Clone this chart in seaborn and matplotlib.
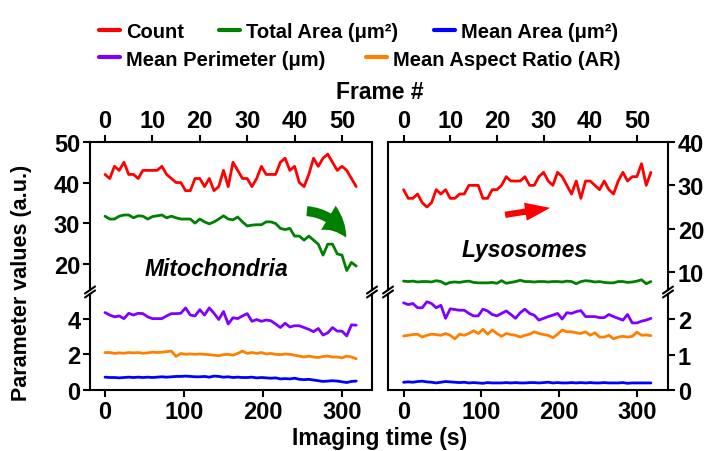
import numpy as np
import pandas as pd
import matplotlib
matplotlib.use("Agg")
import matplotlib.pyplot as plt
import seaborn as sns
from matplotlib.lines import Line2D
from matplotlib.patches import FancyArrowPatch

# ---------------- data ----------------
frame_interval = 6.0
n_frames = 54
time_s = np.arange(n_frames) * frame_interval

mito_count = [42, 41, 44, 43, 45, 42, 42, 41, 43, 43, 43, 43, 44, 42, 41, 40, 40, 38, 38, 41,
              41, 39, 41, 38, 39, 43, 39, 45, 43, 41, 41, 39, 41, 44, 42, 42, 42, 45, 46, 43,
              44, 40, 39, 42, 46, 44, 46, 47, 45, 43, 44, 43, 41, 39]
mito_total_area = [31.7, 31.0, 31.0, 31.7, 32.0, 32.0, 31.3, 31.8, 31.7, 31.0,
                   31.6, 31.8, 32.0, 31.3, 31.7, 31.3, 31.0, 31.0, 31.0, 30.0,
                   31.0, 30.3, 29.8, 30.3, 31.0, 31.8, 31.0, 30.8, 31.5, 30.3,
                   29.3, 29.5, 29.6, 29.6, 30.3, 30.3, 29.9, 28.7, 28.4, 28.7,
                   26.8, 26.8, 25.8, 26.8, 25.8, 24.8, 22.1, 24.8, 24.8, 22.4,
                   22.1, 18.3, 20.3, 19.4]
mito_mean_area = [0.72, 0.70, 0.70, 0.68, 0.70, 0.72, 0.70, 0.72, 0.70, 0.72,
                  0.70, 0.72, 0.74, 0.72, 0.74, 0.76, 0.76, 0.78, 0.76, 0.74,
                  0.74, 0.76, 0.72, 0.78, 0.76, 0.72, 0.74, 0.70, 0.72, 0.70,
                  0.70, 0.72, 0.68, 0.70, 0.68, 0.66, 0.68, 0.62, 0.64, 0.62,
                  0.66, 0.60, 0.58, 0.60, 0.56, 0.52, 0.48, 0.50, 0.52, 0.50,
                  0.46, 0.42, 0.48, 0.50]
mito_perimeter = [4.34, 4.20, 4.10, 4.15, 4.00, 4.30, 4.20, 4.30, 4.28, 4.10,
                  4.00, 4.00, 4.00, 4.15, 4.28, 4.28, 4.30, 4.60, 4.20, 4.15,
                  4.50, 4.20, 4.60, 4.30, 3.95, 4.40, 3.70, 4.05, 4.00, 4.15,
                  4.28, 3.85, 3.95, 3.85, 3.92, 3.88, 3.70, 3.50, 3.74, 3.53,
                  3.60, 3.60, 3.50, 3.40, 3.27, 3.45, 3.08, 3.20, 3.50, 3.30,
                  3.30, 3.03, 3.65, 3.63]
mito_aspect = [2.10, 2.10, 2.05, 2.08, 2.06, 2.10, 2.08, 2.10, 2.06, 2.08,
               2.12, 2.10, 2.12, 2.15, 2.18, 1.88, 2.05, 2.00, 2.02, 2.00,
               2.02, 2.00, 1.98, 1.95, 1.92, 1.98, 2.00, 1.95, 2.05, 2.18,
               2.05, 2.10, 2.05, 2.10, 2.02, 2.05, 2.00, 1.98, 2.02, 2.00,
               1.95, 1.90, 1.85, 1.90, 1.85, 1.82, 1.88, 1.90, 1.85, 1.85,
               1.80, 1.90, 1.85, 1.75]

lyso_count = [29, 27, 27, 28, 26, 25, 26, 29, 28, 29, 27, 27, 28, 28, 30, 30, 30, 27, 27, 29,
              29, 30, 32, 31, 31, 31, 32, 30, 30, 32, 33, 31, 30, 33, 32, 30, 28, 31, 27, 31,
              31, 30, 29, 31, 29, 28, 31, 33, 31, 32, 32, 35, 30, 33]
lyso_total_area = [7.9, 7.8, 7.9, 7.7, 7.8, 7.8, 7.7, 8.0, 7.8, 7.2,
                   7.6, 7.7, 7.6, 7.8, 7.9, 7.6, 7.5, 7.5, 7.5, 7.6,
                   7.4, 8.0, 7.4, 7.6, 7.8, 8.1, 7.8, 7.8, 7.7, 7.8,
                   7.8, 7.7, 7.8, 7.8, 7.7, 7.9, 7.8, 7.3, 7.8, 8.0,
                   7.9, 7.7, 7.8, 7.6, 7.5, 7.5, 7.8, 7.8, 7.6, 7.7,
                   7.9, 8.2, 7.3, 7.8]
lyso_mean_area = [0.22, 0.23, 0.22, 0.24, 0.25, 0.23, 0.22, 0.20, 0.22, 0.24,
                  0.23, 0.22, 0.21, 0.22, 0.20, 0.21, 0.20, 0.19, 0.21, 0.20,
                  0.20, 0.20, 0.21, 0.20, 0.21, 0.20, 0.20, 0.21, 0.21, 0.20,
                  0.21, 0.22, 0.20, 0.21, 0.20, 0.20, 0.21, 0.20, 0.21, 0.20,
                  0.21, 0.20, 0.20, 0.21, 0.20, 0.20, 0.20, 0.21, 0.19, 0.20,
                  0.20, 0.20, 0.20, 0.20]
lyso_perimeter = [2.47, 2.42, 2.45, 2.33, 2.33, 2.50, 2.45, 2.33, 2.40, 2.03,
                  2.30, 2.28, 2.26, 2.26, 2.17, 2.10, 2.10, 2.29, 2.24, 2.14,
                  2.10, 2.17, 2.24, 2.14, 2.03, 2.19, 2.29, 2.17, 2.12, 1.98,
                  2.03, 2.08, 2.12, 2.17, 2.01, 2.19, 2.17, 2.22, 2.25, 2.08,
                  2.08, 2.08, 2.05, 2.05, 2.14, 2.08, 2.03, 1.98, 2.14, 1.90,
                  1.90, 1.95, 1.98, 2.03]
lyso_aspect = [1.53, 1.55, 1.57, 1.58, 1.50, 1.55, 1.58, 1.57, 1.55, 1.60,
               1.55, 1.45, 1.58, 1.55, 1.60, 1.68, 1.60, 1.72, 1.58, 1.70,
               1.60, 1.52, 1.60, 1.57, 1.55, 1.50, 1.55, 1.58, 1.65, 1.60,
               1.57, 1.55, 1.48, 1.58, 1.70, 1.65, 1.65, 1.62, 1.60, 1.65,
               1.55, 1.62, 1.50, 1.50, 1.55, 1.45, 1.50, 1.52, 1.50, 1.52,
               1.64, 1.55, 1.56, 1.54]

series_names = ["Count", "Total Area (μm²)", "Mean Area (μm²)",
                "Mean Perimeter (μm)", "Mean Aspect Ratio (AR)"]
series_colors = ["#FF0000", "#008000", "#0000FF", "#8000FF", "#FF8000"]
palette = dict(zip(series_names, series_colors))

frame_ticks = [0, 10, 20, 30, 40, 50]
time_ticks = [0, 100, 200, 300]
left_upper_ticks = [20, 30, 40, 50]
left_lower_ticks = [0, 2, 4]
right_upper_ticks = [10, 20, 30, 40]
right_lower_ticks = [0, 1, 2]


def long_df(cols):
    d = pd.DataFrame({"time": time_s})
    for name, vals in cols:
        d[name] = vals
    return d.melt(id_vars="time", var_name="series", value_name="value")


mito_up = long_df([(series_names[0], mito_count), (series_names[1], mito_total_area)])
mito_lo = long_df([(series_names[2], mito_mean_area), (series_names[3], mito_perimeter),
                   (series_names[4], mito_aspect)])
lyso_up = long_df([(series_names[0], lyso_count), (series_names[1], lyso_total_area)])
lyso_lo = long_df([(series_names[2], lyso_mean_area), (series_names[3], lyso_perimeter),
                   (series_names[4], lyso_aspect)])

# ---------------- style ----------------
sns.set_theme(style="ticks")
plt.rcParams["font.family"] = ["Liberation Sans", "DejaVu Sans"]
plt.rcParams["font.weight"] = "bold"
plt.rcParams["axes.linewidth"] = 1.5
for key in ("text.color", "axes.labelcolor", "xtick.color", "ytick.color",
            "axes.edgecolor", "legend.labelcolor"):
    plt.rcParams[key] = "black"

W, H = 704, 452
fig = plt.figure(figsize=(W / 100, H / 100), dpi=100)


def fx(px):
    return px / W


def fy(py):
    return 1 - py / H


LX0, LX1 = 90, 372
RX0, RX1 = 388, 668
UY0, UY1 = 143, 291
DY0, DY1 = 295, 391

ax_lu = fig.add_axes([fx(LX0), fy(UY1), (LX1 - LX0) / W, (UY1 - UY0) / H])
ax_ll = fig.add_axes([fx(LX0), fy(DY1), (LX1 - LX0) / W, (DY1 - DY0) / H])
ax_ru = fig.add_axes([fx(RX0), fy(UY1), (RX1 - RX0) / W, (UY1 - UY0) / H])
ax_rl = fig.add_axes([fx(RX0), fy(DY1), (RX1 - RX0) / W, (DY1 - DY0) / H])

LW = 2.0
for ax, df in [(ax_lu, mito_up), (ax_ll, mito_lo), (ax_ru, lyso_up), (ax_rl, lyso_lo)]:
    sns.lineplot(data=df, x="time", y="value", hue="series", palette=palette,
                 legend=False, ax=ax, linewidth=LW)
    ax.set_xlabel("")
    ax.set_ylabel("")
    ax.set_facecolor("white")
    for s in ax.spines.values():
        s.set_linewidth(1.5)
        s.set_color("black")

ax_lu.set_xlim(-19, 338); ax_ll.set_xlim(-19, 338)
ax_ru.set_xlim(-20, 340); ax_rl.set_xlim(-20, 340)
ax_lu.set_ylim(13.5, 50); ax_ll.set_ylim(0, 5.38)
ax_ru.set_ylim(5.85, 40); ax_rl.set_ylim(0, 2.72)

TS = 17
tick_kw = dict(direction="out", length=5, width=1.5, labelsize=TS, pad=2,
               colors="black")

for ax in (ax_lu, ax_ru):
    ax.spines["bottom"].set_visible(False)
    ax.xaxis.tick_top()
    ax.set_xticks([f * frame_interval for f in frame_ticks])
    ax.set_xticklabels([str(f) for f in frame_ticks])
for ax in (ax_ll, ax_rl):
    ax.spines["top"].set_visible(False)
    ax.xaxis.tick_bottom()
    ax.set_xticks(time_ticks)
    ax.set_xticklabels([str(t) for t in time_ticks])

for ax in (ax_lu, ax_ll):
    ax.yaxis.tick_left()
for ax in (ax_ru, ax_rl):
    ax.yaxis.tick_right()

ax_lu.set_yticks(left_upper_ticks)
ax_ll.set_yticks(left_lower_ticks)
ax_ru.set_yticks(right_upper_ticks)
ax_rl.set_yticks(right_lower_ticks)

for ax in (ax_lu, ax_ll, ax_ru, ax_rl):
    ax.tick_params(axis="both", which="major", **tick_kw)
    for lab in ax.get_xticklabels() + ax.get_yticklabels():
        lab.set_fontweight("bold")
        lab.set_color("black")

# break marks
for x in (LX0, LX1, RX0, RX1):
    for y in (UY1, DY0):
        fig.add_artist(Line2D([fx(x - 5), fx(x + 5)], [fy(y + 3.5), fy(y - 3.5)],
                              transform=fig.transFigure, color="black", lw=1.5))

# annotations
ax_lu.text(141, 18.9, "Mitochondria", fontsize=16.5, fontweight="bold", style="italic",
           ha="center", va="center", color="black")
ax_ru.text(156, 15.2, "Lysosomes", fontsize=16.5, fontweight="bold", style="italic",
           ha="center", va="center", color="black")
ax_lu.add_patch(FancyArrowPatch((252, 33), (307, 25.8), connectionstyle="arc3,rad=-0.3",
                                arrowstyle="simple,head_width=1.7,head_length=1.6,tail_width=0.6",
                                mutation_scale=12, color="#008000", lw=0))
ax_ru.add_patch(FancyArrowPatch((127, 23.1), (192, 24.9),
                                arrowstyle="simple,head_width=1.3,head_length=1.8,tail_width=0.45",
                                mutation_scale=10, color="#FF0000", lw=0))

# axis labels
fig.text(fx(380), fy(93), "Frame #", fontsize=16.5, fontweight="bold", ha="center",
         va="center", color="black")
fig.text(fx(380), fy(439), "Imaging time (s)", fontsize=16.5, fontweight="bold",
         ha="center", va="center", color="black")
fig.text(fx(22), fy(283), "Parameter values (a.u.)", fontsize=15.5, fontweight="bold",
         ha="center", va="center", rotation=90, color="black")

# legend (two rows)
handles = [Line2D([], [], color=c, lw=3) for c in series_colors]
leg_kw = dict(frameon=False, handlelength=1.05, handletextpad=0.3, borderpad=0,
              borderaxespad=0, loc="center left", labelcolor="black",
              prop=dict(family=["Liberation Sans", "DejaVu Sans"], weight="bold", size=14.5))
fig.legend(handles[:3], series_names[:3], bbox_to_anchor=(fx(99), fy(33)), ncol=3,
           columnspacing=1.75, **leg_kw)
fig.legend(handles[3:], series_names[3:], bbox_to_anchor=(fx(99), fy(60)), ncol=2,
           columnspacing=2.0, **leg_kw)

fig.savefig("out.png", dpi=100, facecolor="white")
